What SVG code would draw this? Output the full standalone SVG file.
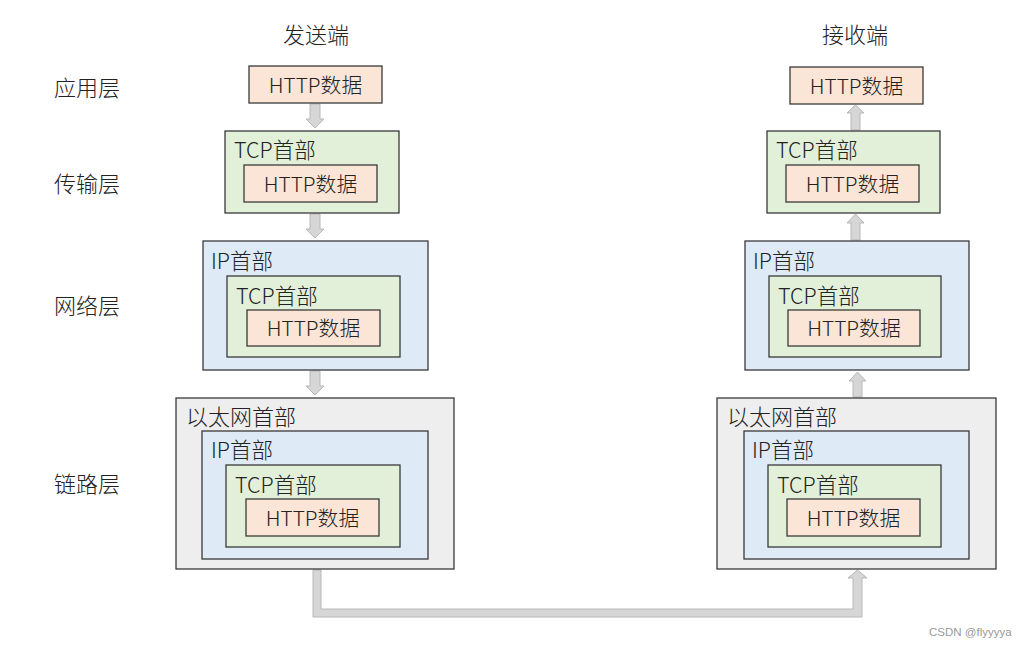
<svg xmlns="http://www.w3.org/2000/svg" width="1026" height="649" viewBox="0 0 1026 649">
<defs>
<style>
text{font-family:"Noto Sans CJK SC","Liberation Sans",sans-serif;fill:#222;font-size:21.5px;font-weight:300}
.c{text-anchor:middle;dominant-baseline:central}
.l{dominant-baseline:central}
.h{font-size:20.8px}
.t{font-size:22px}
.http{fill:#fbe5d6;stroke:#3a3a3a;stroke-width:1.3}
.tcp{fill:#e2f0d9;stroke:#3a3a3a;stroke-width:1.3}
.ip{fill:#deebf7;stroke:#3a3a3a;stroke-width:1.3}
.eth{fill:#eeeeee;stroke:#3a3a3a;stroke-width:1.3}
.arr{fill:#d6d6d6;stroke:#b8b8b8;stroke-width:1}
.wm{font-family:"Liberation Sans",sans-serif;font-size:11.5px;fill:#999;font-weight:400}
</style>
</defs>
<rect width="1026" height="649" fill="#fff"/>
<g id="titles">
<text class="c t" x="316" y="32.5">发送端</text>
<text class="c t" x="855" y="32.5">接收端</text>
<text class="c t" x="87" y="86">应用层</text>
<text class="c t" x="87" y="182">传输层</text>
<text class="c t" x="87" y="304">网络层</text>
<text class="c t" x="87" y="482">链路层</text>
</g>
<g id="connectors">
<polygon class="arr" points="310,104 320,104 320,119 324,119 315,128 306,119 310,119"/>
<polygon class="arr" points="310,214 320,214 320,229 324,229 315,238 306,229 310,229"/>
<polygon class="arr" points="310,371 320,371 320,386 324,386 315,395 306,386 310,386"/>
<polygon class="arr" points="313,570 321,570 321,609 853,609 853,578 848,578 857.5,570 867,578 862,578 862,617 313,617"/>
<polygon class="arr" points="853,397 862,397 862,381 866,381 857.5,372 849,381 853,381"/>
<polygon class="arr" points="851,240 860,240 860,223 864,223 855.5,214 847,223 851,223"/>
<polygon class="arr" points="851,130 860,130 860,113 864,113 855.5,105 847,113 851,113"/>
</g>
<g id="send-app"><rect class="http" x="249" y="66" width="133" height="37"/><text class="c h" x="315.5" y="84">HTTP数据</text></g>
<g id="send-transport"><rect class="tcp" x="225" y="131" width="174" height="82"/><text class="l" x="234" y="148">TCP首部</text>
<rect class="http" x="244" y="165" width="133" height="37"/><text class="c h" x="310.5" y="183">HTTP数据</text></g>
<g id="send-network"><rect class="ip" x="203" y="241" width="225" height="129"/><text class="l" x="211" y="259">IP首部</text>
<rect class="tcp" x="227" y="276" width="173" height="81"/><text class="l" x="236" y="294">TCP首部</text>
<rect class="http" x="247" y="310" width="133" height="36"/><text class="c h" x="313.5" y="327">HTTP数据</text></g>
<g id="send-link"><rect class="eth" x="176" y="398" width="278" height="171"/><text class="l t" x="186" y="415">以太网首部</text>
<rect class="ip" x="202" y="431" width="226" height="128"/><text class="l" x="211" y="448">IP首部</text>
<rect class="tcp" x="226" y="465" width="174" height="82"/><text class="l" x="235" y="483">TCP首部</text>
<rect class="http" x="246" y="499" width="133" height="37"/><text class="c h" x="312.5" y="517">HTTP数据</text></g>
<g id="recv-app"><rect class="http" x="790" y="67" width="133" height="37"/><text class="c h" x="856.5" y="85">HTTP数据</text></g>
<g id="recv-transport"><rect class="tcp" x="767" y="131" width="173" height="82"/><text class="l" x="776" y="148">TCP首部</text>
<rect class="http" x="786" y="165" width="133" height="37"/><text class="c h" x="852.5" y="183">HTTP数据</text></g>
<g id="recv-network"><rect class="ip" x="745" y="241" width="224" height="129"/><text class="l" x="753" y="259">IP首部</text>
<rect class="tcp" x="769" y="276" width="172" height="81"/><text class="l" x="778" y="294">TCP首部</text>
<rect class="http" x="788" y="310" width="132" height="36"/><text class="c h" x="854" y="327">HTTP数据</text></g>
<g id="recv-link"><rect class="eth" x="717" y="398" width="279" height="171"/><text class="l t" x="727" y="415">以太网首部</text>
<rect class="ip" x="744" y="431" width="225" height="128"/><text class="l" x="752" y="448">IP首部</text>
<rect class="tcp" x="768" y="465" width="173" height="82"/><text class="l" x="777" y="483">TCP首部</text>
<rect class="http" x="787" y="499" width="133" height="37"/><text class="c h" x="853.5" y="517">HTTP数据</text></g>
<text class="wm" x="929" y="636">CSDN @flyyyya</text>
</svg>
